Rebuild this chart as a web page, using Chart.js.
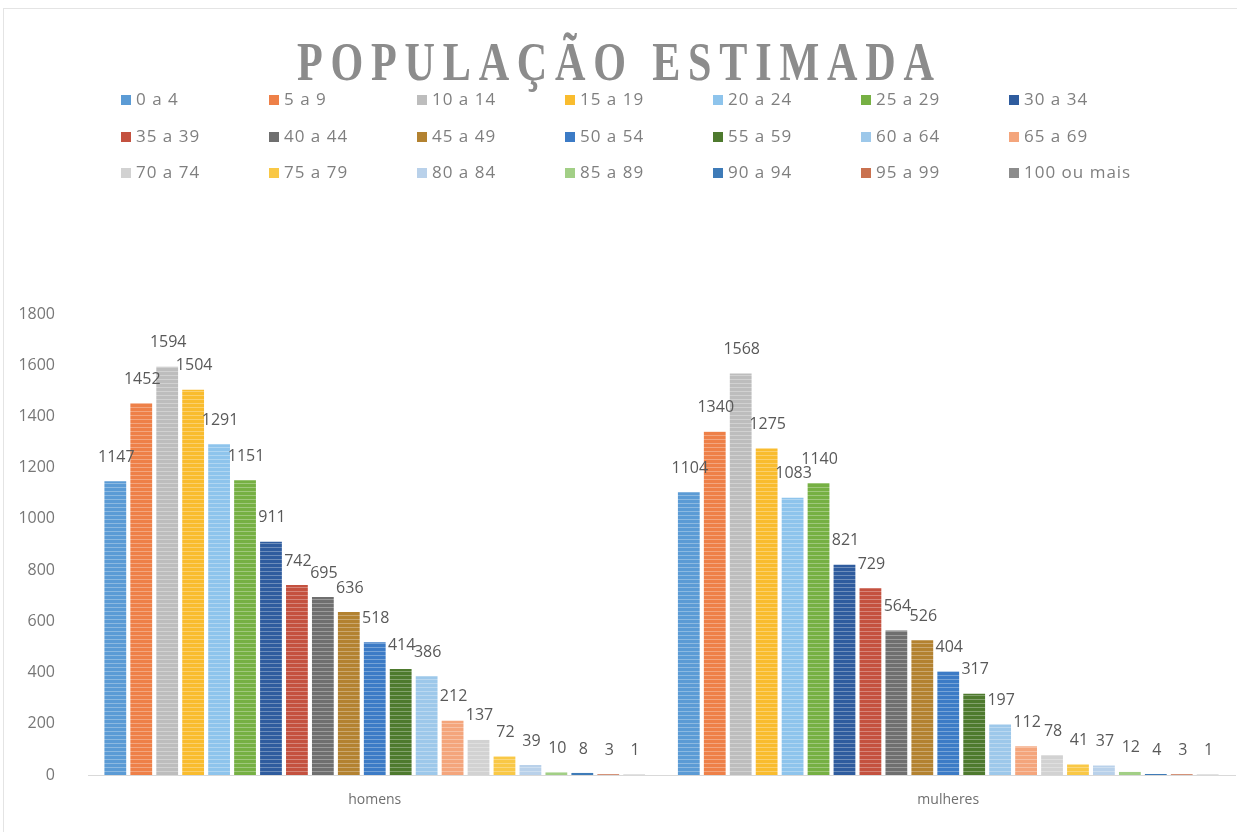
<!DOCTYPE html>
<html>
<head>
<meta charset="utf-8">
<script src="https://cdn.jsdelivr.net/npm/chart.js@4.4.1/dist/chart.umd.min.js"></script>
<style>
  html, body { margin: 0; padding: 0; background: #fff; }
  #wrap { position: relative; width: 1237px; height: 832px; overflow: hidden; }
  #frame { position: absolute; left: 3px; top: 8px; width: 1240px; height: 830px; border: 1px solid #e4e4e4; box-sizing: border-box; }
  #chart { position: absolute; left: 0; top: 0; }
  #title {
    position: absolute; left: 0; width: 1237px; top: 35px; text-align: center;
    font-family: "Liberation Serif", serif; font-weight: bold; font-size: 54px; line-height: 54px;
    color: #8c8c8c; letter-spacing: 10px; transform: scaleX(0.78); transform-origin: 622px 0;
    white-space: nowrap;
  }
  .item { position: absolute; font-family: "Open Sans", sans-serif; font-size: 17px; color: #7f7f7f;
          letter-spacing: 1px; white-space: nowrap; line-height: 22px; }
  .item i { display: inline-block; width: 10px; height: 10px; margin-right: 5px; vertical-align: 0px; }
</style>
</head>
<body>
<div id="wrap">
  <div id="frame"></div>
  <canvas id="chart" width="1237" height="832"></canvas>
  <div id="title">POPULAÇÃO ESTIMADA</div>
  <div id="legend"></div>
</div>
<script>
// faixas etárias e valores
const categories = ['homens', 'mulheres'];
const ageGroups = ['0 a 4', '5 a 9', '10 a 14', '15 a 19', '20 a 24', '25 a 29', '30 a 34',
                   '35 a 39', '40 a 44', '45 a 49', '50 a 54', '55 a 59', '60 a 64', '65 a 69',
                   '70 a 74', '75 a 79', '80 a 84', '85 a 89', '90 a 94', '95 a 99', '100 ou mais'];
const homens = [1147, 1452, 1594, 1504, 1291, 1151, 911, 742, 695, 636, 518, 414, 386, 212, 137, 72, 39, 10, 8, 3, 1];
const mulheres = [1104, 1340, 1568, 1275, 1083, 1140, 821, 729, 564, 526, 404, 317, 197, 112, 78, 41, 37, 12, 4, 3, 1];
const yTicks = [0, 200, 400, 600, 800, 1000, 1200, 1400, 1600, 1800];

const colors = ['#5B9BD5', '#EE8048', '#BDBDBD', '#F9BC2E', '#8EC4EC', '#76B043', '#2F5C9E',
                '#C4513F', '#6F6F6F', '#B38230', '#3C7BC6', '#4E7A2E', '#9DC8EA', '#F4A57C',
                '#D2D2D2', '#F9C846', '#B9D1EA', '#A2CF86', '#3E7BB8', '#C9714F', '#8C8C8C'];

// listras horizontais claras como no original
function stripes(color) {
  const c = document.createElement('canvas');
  c.width = 4; c.height = 4;
  const g = c.getContext('2d');
  g.fillStyle = color;
  g.fillRect(0, 0, 4, 4);
  g.fillStyle = 'rgba(255,255,255,0.3)';
  g.fillRect(0, 3, 4, 1);
  return g.createPattern(c, 'repeat');
}

// legenda em grade 7 x 3
const legend = document.getElementById('legend');
ageGroups.forEach((name, i) => {
  const d = document.createElement('div');
  d.className = 'item';
  d.style.left = (121 + (i % 7) * 148) + 'px';
  d.style.top = (88 + Math.floor(i / 7) * 36.5) + 'px';
  d.innerHTML = '<i style="background:' + colors[i] + '"></i>' + name;
  legend.appendChild(d);
});

const valueLabels = {
  id: 'valueLabels',
  afterDatasetsDraw(chart) {
    const ctx = chart.ctx;
    ctx.save();
    ctx.font = '16px "Open Sans", sans-serif';
    ctx.fillStyle = '#595959';
    ctx.textAlign = 'center';
    ctx.textBaseline = 'middle';
    chart.data.datasets.forEach((ds, i) => {
      chart.getDatasetMeta(i).data.forEach((bar, j) => {
        ctx.fillText(ds.data[j], bar.x + 1, bar.y - 24);
      });
    });
    ctx.restore();
  }
};

const ctx = document.getElementById('chart').getContext('2d');
const chart = new Chart(ctx, {
  type: 'bar',
  data: {
    labels: categories,
    datasets: ageGroups.map((name, i) => ({
      label: name,
      data: [homens[i], mulheres[i]],
      backgroundColor: stripes(colors[i]),
      borderWidth: 0,
      categoryPercentage: 0.95,
      barPercentage: 0.84
    }))
  },
  options: {
    responsive: false,
    devicePixelRatio: 1,
    animation: false,
    layout: { padding: { top: 314, right: 2, left: 0, bottom: 0 } },
    plugins: {
      legend: { display: false },
      title: { display: false },
      tooltip: { enabled: false }
    },
    scales: {
      x: {
        grid: { display: false, drawTicks: false },
        border: { display: true, color: '#d9d9d9', width: 1 },
        ticks: { color: '#6f6f6f', font: { family: 'Open Sans', size: 14 }, padding: 17 },
        afterFit: s => { s.height = 57; }
      },
      y: {
        min: 0,
        max: 1800,
        grid: { display: false, drawTicks: false },
        border: { display: false },
        afterBuildTicks: s => { s.ticks = yTicks.map(v => ({ value: v })); },
        ticks: { color: '#777777', font: { family: 'Open Sans', size: 16 }, padding: 33,
                 callback: v => String(v) },
        afterFit: s => { s.width = 88; }
      }
    }
  },
  plugins: [valueLabels]
});
</script>
</body>
</html>
